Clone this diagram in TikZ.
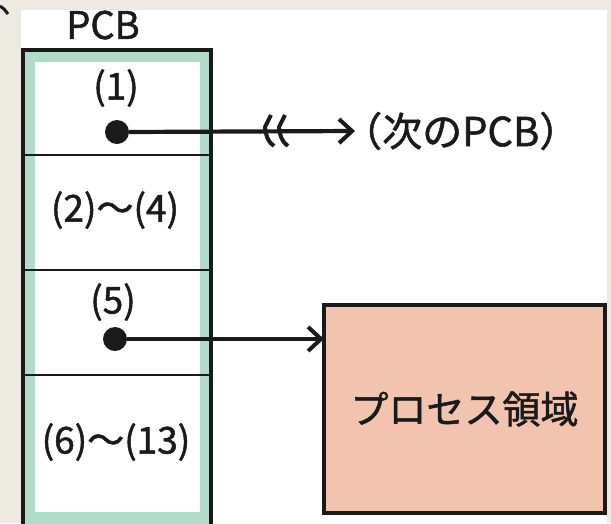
\documentclass[tikz,border=0pt]{standalone}
\usepackage{fontspec}
\newfontfamily\jp[FakeBold=1.3]{Noto Sans CJK JP}
\usetikzlibrary{arrows.meta}
\definecolor{bg}{HTML}{EDEAE1}
\definecolor{pcbgreen}{HTML}{B2DCCA}
\definecolor{procfill}{HTML}{F2C4AF}
\definecolor{ink}{HTML}{1A1A1A}
\begin{document}
\begin{tikzpicture}[x=1pt,y=-1pt,
  lbl/.style={font=\jp\fontsize{37}{39}\selectfont, text=ink, inner sep=0pt},
  dotnode/.style={circle, fill=ink, minimum size=24pt, inner sep=0pt},
  conn/.style={draw=ink, line width=4.2pt, -{Straight Barb[length=13pt,width=24pt,line width=4pt]}},
  divider/.style={draw=ink, line width=1.8pt},
  brk/.style={draw=ink, line width=4pt}]
\useasboundingbox (0,0) rectangle (611,523);
\fill[bg] (0,0) rectangle (611,523);
\fill[white] (21,10) rectangle (607,523);
% cropped mark in the corner
\draw[ink, line width=3pt] (0,6) -- (4,9) -- (8,14);
% PCB box
\node[draw=ink, line width=4pt, fill=pcbgreen, inner sep=0pt, outer sep=0pt,
      minimum width=188pt, minimum height=490pt] (pcb) at (117,295) {};
\node[fill=white, inner sep=0pt, outer sep=0pt,
      minimum width=165pt, minimum height=450pt] (pcbin) at (117.5,287) {};
\draw[divider] (23,155) -- (211,155);
\draw[divider] (23,270) -- (211,270);
\draw[divider] (23,375) -- (211,375);
\node[lbl, font=\jp\fontsize{38}{40}\selectfont] (title) at (103,25) {PCB};
\node[lbl] (f1) at (116,88) {(1)};
\node[lbl] (f2) at (115,210) {(2)～(4)};
\node[lbl] (f5) at (113,302) {(5)};
\node[lbl] (f6) at (116,442) {(6)～(13)};
% process area
\node[draw=ink, line width=4pt, fill=procfill, inner sep=0pt, outer sep=0pt,
      minimum width=281pt, minimum height=208pt, lbl, font=\jp\fontsize{38}{40}\selectfont] (proc) at (464.5,409) {プロセス領域};
% next PCB
\node[lbl, anchor=west, font=\jp\fontsize{40}{42}\selectfont] (next) at (355,131) {\hspace{-13pt}（次のPCB）};
% dots and connectors
\node[dotnode] (d1) at (117,132) {};
\node[dotnode] (d5) at (115,339) {};
\draw[conn] (d1.east) -- (next.west);
\draw[brk] (271,115) -- (265,127) .. controls (266,136) and (268,142) .. (274,146);
\draw[brk] (285,115) -- (279,127) .. controls (280,136) and (282,142) .. (288,146);
\draw[conn] (d5.east) -- (d5.center -| proc.west);
\end{tikzpicture}
\end{document}
